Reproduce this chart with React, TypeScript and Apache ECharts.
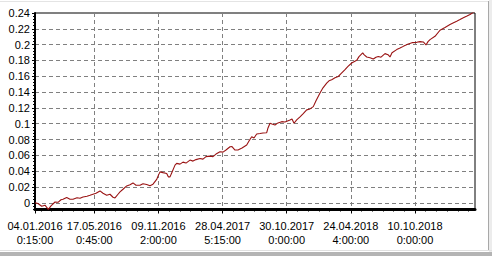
import React, { useEffect, useRef } from "react";
import * as echarts from "echarts";

// Bar index (x) of each sampled point of the equity curve
const barIndex = [
  0, 30, 67, 100, 133, 160, 200, 230, 260, 280, 317, 350, 380, 420, 450, 480, 520, 550, 580, 610,
  650, 680, 717, 750, 780, 800, 830, 850, 880, 917, 950, 980, 1010, 1050, 1080, 1117, 1150, 1180,
  1217, 1230, 1250, 1280, 1317, 1333, 1350, 1370, 1400, 1417, 1450, 1480, 1510, 1550, 1580, 1610,
  1650, 1680, 1710, 1750, 1780, 1810, 1850, 1880, 1910, 1950, 1970, 2000, 2030, 2070, 2117, 2140,
  2167, 2190, 2217, 2250, 2280, 2317, 2330, 2350, 2370, 2400, 2430, 2467, 2500, 2550, 2570, 2590,
  2617, 2650, 2680, 2717, 2750, 2783, 2810, 2850, 2880, 2917, 2940, 2967, 3000, 3033, 3060, 3100,
  3130, 3167, 3190, 3217, 3240, 3277, 3290, 3317, 3350, 3383, 3410, 3433, 3460, 3500, 3530, 3550,
  3570, 3617, 3650, 3683, 3710, 3733, 3770, 3817, 3850, 3883, 3910, 3930, 3950, 4000, 4050, 4100,
  4150, 4180, 4217, 4250, 4283, 4320, 4350, 4383, 4400,
];

// Equity values at those points
const equity = [
  0.0, -0.001, -0.0044, -0.003, -0.0083, -0.004, 0.001, 0.0006, 0.0038, 0.0044, 0.0066, 0.0044,
  0.0044, 0.0063, 0.0057, 0.0074, 0.0083, 0.0095, 0.0108, 0.0121, 0.015, 0.012, 0.0095, 0.0108,
  0.007, 0.0061, 0.0108, 0.0137, 0.0171, 0.0213, 0.0229, 0.0251, 0.0222, 0.0222, 0.0241, 0.0231,
  0.0216, 0.0235, 0.0295, 0.0337, 0.0391, 0.0381, 0.0371, 0.0328, 0.0328, 0.0387, 0.0476, 0.0498,
  0.0489, 0.0514, 0.0502, 0.054, 0.0527, 0.0546, 0.0561, 0.0552, 0.0584, 0.059, 0.0584, 0.0616,
  0.0645, 0.0641, 0.0667, 0.0709, 0.0711, 0.0667, 0.0667, 0.0692, 0.073, 0.0781, 0.0836, 0.0819,
  0.087, 0.0876, 0.0883, 0.0886, 0.0946, 0.1006, 0.0997, 0.0984, 0.101, 0.1026, 0.1022, 0.1048,
  0.106, 0.1006, 0.1048, 0.1086, 0.1124, 0.1175, 0.1187, 0.1216, 0.1289, 0.1387, 0.1454, 0.1514,
  0.1543, 0.1556, 0.1581, 0.1597, 0.1632, 0.1683, 0.1724, 0.1768, 0.1784, 0.1801, 0.1848, 0.1895,
  0.1873, 0.1844, 0.1835, 0.1818, 0.1841, 0.1851, 0.1841, 0.1886, 0.1873, 0.1844, 0.1898, 0.1937,
  0.1956, 0.1978, 0.1994, 0.2009, 0.2025, 0.2029, 0.2038, 0.2034, 0.1996, 0.2038, 0.2063, 0.2105,
  0.2182, 0.2216, 0.2254, 0.2273, 0.2296, 0.2317, 0.2339, 0.2362, 0.2381, 0.241, 0.2419,
];

// X axis tick positions (bar index) and their two-line labels
const xTickIndex = [0, 593, 1234, 1876, 2517, 3158, 3800];
const xTickDates = ["04.01.2016", "17.05.2016", "09.11.2016", "28.04.2017", "30.10.2017", "24.04.2018", "10.10.2018"];
const xTickTimes = ["0:15:00", "0:45:00", "2:00:00", "5:15:00", "0:00:00", "4:00:00", "0:00:00"];

// Y axis ticks
const yTicks = [0, 0.02, 0.04, 0.06, 0.08, 0.1, 0.12, 0.14, 0.16, 0.18, 0.2, 0.22, 0.24];

const X_MIN = 0;
const X_MAX = 4400;
const Y_MIN = -0.0085;
const Y_MAX = 0.24;

function buildMinorX(): number[] {
  const out: number[] = [];
  const step = (xTickIndex[xTickIndex.length - 1] - xTickIndex[1]) / (xTickIndex.length - 2) / 6;
  for (let v = xTickIndex[1]; v > X_MIN; v -= step) out.push(v);
  for (let v = xTickIndex[1] + step; v < X_MAX; v += step) out.push(v);
  return out;
}

function buildMinorY(): number[] {
  const out: number[] = [];
  for (let k = -2; k <= 60; k++) {
    const v = Math.round(k * 0.004 * 10000) / 10000;
    if (v >= Y_MIN && v <= Y_MAX) out.push(v);
  }
  return out;
}

export default function App() {
  const ref = useRef<HTMLDivElement>(null);
  useEffect(() => {
    if (!ref.current) return;
    const chart = echarts.init(ref.current, null, { renderer: "svg" });
    const font = "'Liberation Sans', Arial, sans-serif";
    const data = barIndex.map((x, i) => [x, equity[i]]);
    chart.setOption({
      animation: false,
      backgroundColor: "#ffffff",
      grid: {
        left: 35,
        top: 13,
        right: 17,
        bottom: 46.5,
        show: true,
        borderColor: "#000",
        borderWidth: 1,
        backgroundColor: "#ffffff",
        containLabel: false,
        outerBoundsMode: "none",
      },
      xAxis: [
        {
          type: "value",
          min: X_MIN,
          max: X_MAX,
          position: "bottom",
          axisLine: { show: true, onZero: false, lineStyle: { color: "#000", width: 3 } },
          axisTick: { show: true, customValues: xTickIndex, length: 4, lineStyle: { color: "#000", width: 1 } },
          axisLabel: {
            show: true,
            customValues: xTickIndex,
            margin: 9,
            fontSize: 11,
            fontFamily: font,
            color: "#000",
            lineHeight: 14,
            formatter: (v: number) => {
              const i = xTickIndex.findIndex((t) => Math.abs(t - v) < 0.5);
              return i >= 0 ? xTickDates[i] + "\n" + xTickTimes[i] : "";
            },
          },
          splitLine: { show: true, lineStyle: { color: "#808080", width: 1, type: [4, 3] } },
        },
        {
          type: "value",
          min: X_MIN,
          max: X_MAX,
          position: "bottom",
          axisLine: { show: false, onZero: false },
          axisTick: { show: true, customValues: buildMinorX(), length: 2, lineStyle: { color: "#000", width: 1 } },
          axisLabel: { show: false },
          splitLine: { show: false },
        },
      ],
      yAxis: [
        {
          type: "value",
          min: Y_MIN,
          max: Y_MAX,
          position: "left",
          axisLine: { show: true, onZero: false, lineStyle: { color: "#000", width: 2 } },
          axisTick: { show: true, customValues: yTicks, length: 3, lineStyle: { color: "#000", width: 1 } },
          axisLabel: {
            show: true,
            customValues: yTicks,
            margin: 5,
            fontSize: 11,
            fontFamily: font,
            color: "#000",
            formatter: (v: number) => String(Math.round(v * 100) / 100),
          },
          splitLine: { show: true, lineStyle: { color: "#808080", width: 1, type: [4, 3] } },
        },
        {
          type: "value",
          min: Y_MIN,
          max: Y_MAX,
          position: "left",
          axisLine: { show: false, onZero: false },
          axisTick: { show: true, customValues: buildMinorY(), length: 2, lineStyle: { color: "#000", width: 1 } },
          axisLabel: { show: false },
          splitLine: { show: false },
        },
      ],
      series: [
        {
          type: "line",
          xAxisIndex: 0,
          yAxisIndex: 0,
          data,
          showSymbol: false,
          symbol: "none",
          lineStyle: { color: "#9a1414", width: 1.1 },
          z: 5,
        },
      ],
      graphic: [
        { type: "rect", shape: { x: 0, y: 1, width: 489, height: 1 }, style: { fill: "#e4e4e4" }, silent: true },
        { type: "rect", shape: { x: 488, y: 1, width: 1, height: 250 }, style: { fill: "#a8a8a8" }, silent: true },
        { type: "rect", shape: { x: 489, y: 0, width: 3, height: 256 }, style: { fill: "#ececec" }, silent: true },
        { type: "rect", shape: { x: 0, y: 250, width: 492, height: 1 }, style: { fill: "#e0e0e0" }, silent: true },
        { type: "rect", shape: { x: 0, y: 252, width: 492, height: 4 }, style: { fill: "#b4b4b4" }, silent: true },
      ],
    });
    return () => chart.dispose();
  }, []);
  return (
    <div
      ref={ref}
      style={{ position: "absolute", left: 0, top: 0, width: 492, height: 256 }}
    />
  );
}
